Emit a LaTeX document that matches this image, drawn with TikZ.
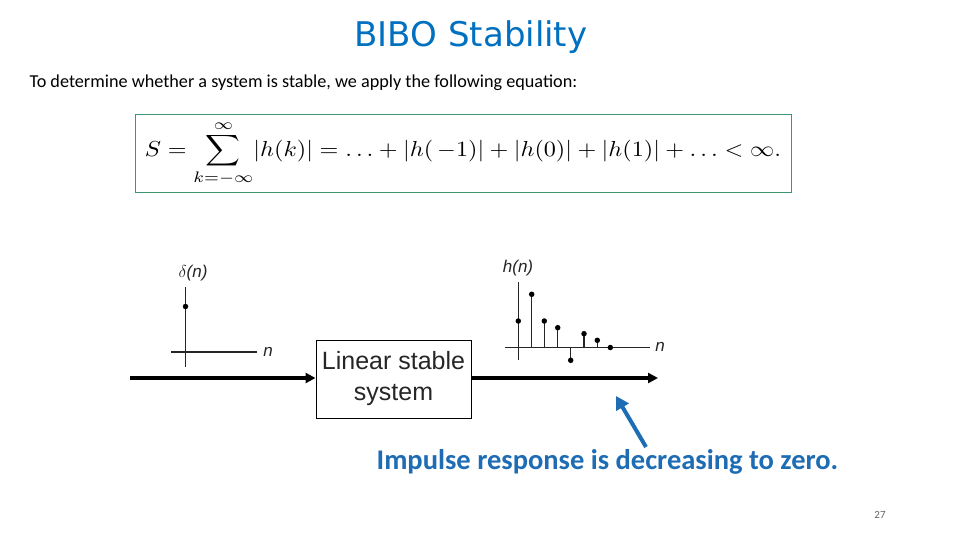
\documentclass[tikz,border=0pt]{standalone}
\usepackage{fontspec}
\usepackage{amsmath}
\usepackage{graphicx}
\usetikzlibrary{arrows.meta}
\newfontfamily\calfont{Carlito}
\newfontfamily\arialfont{Liberation Sans}
\newfontfamily\titlefont{DejaVu Sans}
\definecolor{titleblue}{RGB}{0,112,192}
\definecolor{noteblue}{RGB}{30,108,180}
\definecolor{eqgreen}{RGB}{60,150,110}
\begin{document}
\begin{tikzpicture}[x=1pt,y=-1pt,
  axis/.style={line width=1.1pt, black!85},
  stem/.style={line width=1.1pt, black!85},
  dot/.style={circle, fill=black, inner sep=0pt, minimum size=5.5pt},
  plotlab/.style={font=\arialfont\fontsize{17}{19}\selectfont\itshape, text=black!85},
  sigarrow/.style={line width=3.5pt, -{Triangle[length=10pt,width=10pt]}},
  sysbox/.style={draw, line width=1pt, minimum width=155pt, minimum height=78pt, align=center, font=\arialfont\fontsize{25}{31}\selectfont, inner sep=0pt, text=black!85}]
\useasboundingbox (0,0) rectangle (960,540);
\fill[white] (0,0) rectangle (960,540);
% title and text
\node[text=titleblue, font=\titlefont\fontsize{34}{38}\selectfont] (title) at (471,37) {BIBO Stability};
\node[anchor=west, font=\calfont\fontsize{18.2}{21}\selectfont] (sub) at (26,83) {To determine whether a system is stable, we apply the following equation:};
% equation box
\node[draw=eqgreen, line width=1pt, minimum width=656pt, minimum height=77pt, inner sep=0pt] (eqbox) at (463,153.5) {\resizebox*{636pt}{66pt}{$\displaystyle S=\sum_{k=-\infty}^{\infty}\lvert h(k)\rvert=\ldots+\lvert h(\,-1)\rvert+\lvert h(0)\rvert+\lvert h(1)\rvert+\ldots<\infty.$}};
% delta plot
\draw[axis] (185.5,287) -- (185.5,367);
\draw[axis] (171,352) -- (257,352);
\node[dot] (d0) at (185.5,306.5) {};
\node[plotlab] (dlab) at (193,273) {$\delta$(n)};
\node[plotlab] (dn) at (268,352) {n};
% h(n) plot
\draw[axis] (518.3,282) -- (518.3,360);
\draw[axis] (505,347.5) -- (650,347.5);
\foreach \x/\y [count=\i] in {518.3/321, 531.7/294.3, 544.3/321, 557.7/327.7, 570.7/360.3, 584/333.7, 597.3/340.3, 610.3/347.5}{
  \draw[stem] (\x,347.5) -- (\x,\y);
  \node[dot] (h\i) at (\x,\y) {};
}
\node[plotlab] (hlab) at (518,268) {h(n)};
\node[plotlab] (hn) at (660,347) {n};
% system
\node[sysbox] (sys) at (393.5,379) {Linear stable\\system};
\coordinate (in) at (130,378);
\coordinate (out) at (658,378);
\draw[sigarrow] (in) -- (in -| sys.west);
\draw[sigarrow] (sys.east |- out) -- (out);
% note
\coordinate (ntail) at (646,447);
\coordinate (ntip) at (616,396);
\draw[noteblue, line width=4pt, -{Triangle[length=13pt,width=14pt]}] (ntail) -- (ntip);
\node[text=noteblue, font=\calfont\bfseries\fontsize{28.5}{32}\selectfont] (note) at (607.5,462) {Impulse response is decreasing to zero.};
\node[text=black!60, font=\calfont\fontsize{11}{13}\selectfont] (page) at (880,515) {27};
\end{tikzpicture}
\end{document}
